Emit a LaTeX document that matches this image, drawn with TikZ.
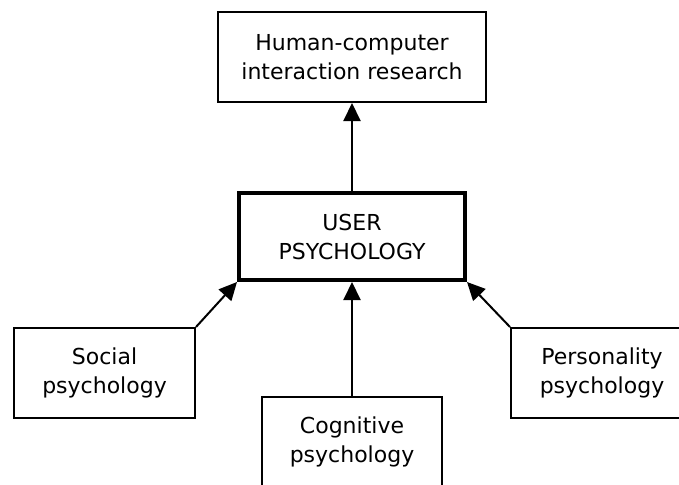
\documentclass[tikz,border=0pt]{standalone}
\usepackage{fontspec}
\setmainfont{DejaVu Sans}
\usetikzlibrary{arrows.meta}

\tikzset{
  box/.style={draw=black, line width=2pt, fill=white, align=center,
    inner sep=0pt, font=\fontsize{22}{29}\selectfont},
  mainbox/.style={box, line width=4pt},
  link/.style={line width=2pt, -{Triangle[length=18pt,width=17pt]}},
}

\begin{document}
\begin{tikzpicture}[x=1pt, y=-1pt]
  \clip (0,0) rectangle (679,484);
  \fill[white] (0,0) rectangle (679,484);

  % boxes
  \node[box, minimum width=268pt, minimum height=90pt] (hci) at (352,57)
    {Human-computer\\interaction research};
  \node[mainbox, minimum width=226pt, minimum height=87pt] (user) at (352,236.5)
    {USER\\PSYCHOLOGY};
  \node[box, minimum width=181pt, minimum height=90pt] (social) at (104.5,373)
    {Social\\psychology};
  \node[box, minimum width=180pt, minimum height=90pt] (cog) at (352,442)
    {Cognitive\\psychology};
  \node[box, minimum width=182pt, minimum height=90pt] (pers) at (602,373)
    {Personality\\psychology};

  % connectors
  \draw[link] (user.north) -- (hci.south);
  \draw[link] (cog.north) -- (user.south);
  \draw[link] (social.north east) -- (user.south west);
  \draw[link] (pers.north west) -- (user.south east);
\end{tikzpicture}
\end{document}
